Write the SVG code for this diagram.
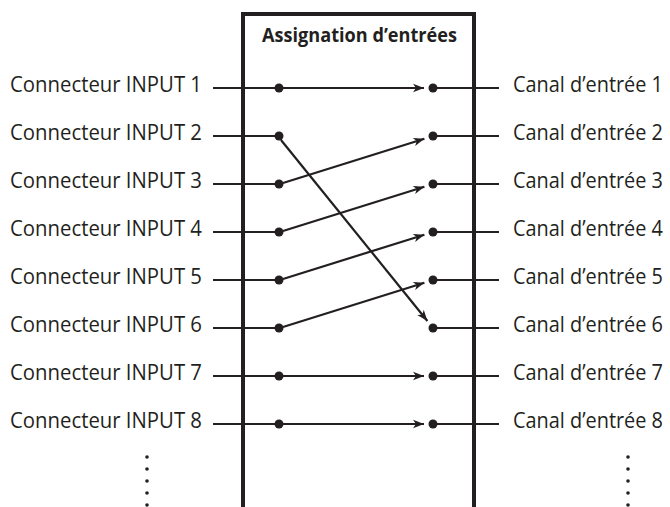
<svg xmlns="http://www.w3.org/2000/svg" width="670" height="507" viewBox="0 0 670 507">
  <style>
    .lbl { font-family: "Open Sans", "Noto Sans", "Liberation Sans", sans-serif; font-size: 21px; fill: #231f20; }
    .title { font-family: "Open Sans", "Noto Sans", "Liberation Sans", sans-serif; font-size: 19px; font-weight: bold; fill: #231f20; }
    .box { fill: none; stroke: #231f20; stroke-width: 4; }
    .wire { stroke: #231f20; stroke-width: 2.2; fill: none; }
    .arr { stroke: #231f20; stroke-width: 2.2; fill: none; marker-end: url(#ah); }
    .dot { fill: #231f20; }
    .sdot { fill: #231f20; }
  </style>
  <defs>
    <marker id="ah" markerUnits="userSpaceOnUse" markerWidth="13" markerHeight="10" viewBox="0 -5 13 10" refX="11" refY="0" orient="auto">
      <path d="M0,-4.2 L11,0 L0,4.2 L3,0 Z" fill="#231f20"/>
    </marker>
  </defs>

  <g id="box">
    <path class="box" d="M243,507 V14 H474 V507"/>
    <text class="title" x="262" y="42" textLength="195" lengthAdjust="spacingAndGlyphs">Assignation d’entrées</text>
  </g>

  <g id="inputs">
    <g id="in1"><text class="lbl" x="10" y="92" textLength="192" lengthAdjust="spacingAndGlyphs">Connecteur INPUT 1</text><line class="wire" x1="213" y1="88" x2="279" y2="88"/><circle class="dot" cx="279" cy="88" r="4.5"/></g>
    <g id="in2"><text class="lbl" x="10" y="140" textLength="192" lengthAdjust="spacingAndGlyphs">Connecteur INPUT 2</text><line class="wire" x1="213" y1="136" x2="279" y2="136"/><circle class="dot" cx="279" cy="136" r="4.5"/></g>
    <g id="in3"><text class="lbl" x="10" y="188" textLength="192" lengthAdjust="spacingAndGlyphs">Connecteur INPUT 3</text><line class="wire" x1="213" y1="184" x2="279" y2="184"/><circle class="dot" cx="279" cy="184" r="4.5"/></g>
    <g id="in4"><text class="lbl" x="10" y="236" textLength="192" lengthAdjust="spacingAndGlyphs">Connecteur INPUT 4</text><line class="wire" x1="213" y1="232" x2="279" y2="232"/><circle class="dot" cx="279" cy="232" r="4.5"/></g>
    <g id="in5"><text class="lbl" x="10" y="284" textLength="192" lengthAdjust="spacingAndGlyphs">Connecteur INPUT 5</text><line class="wire" x1="213" y1="280" x2="279" y2="280"/><circle class="dot" cx="279" cy="280" r="4.5"/></g>
    <g id="in6"><text class="lbl" x="10" y="332" textLength="192" lengthAdjust="spacingAndGlyphs">Connecteur INPUT 6</text><line class="wire" x1="213" y1="328" x2="279" y2="328"/><circle class="dot" cx="279" cy="328" r="4.5"/></g>
    <g id="in7"><text class="lbl" x="10" y="380" textLength="192" lengthAdjust="spacingAndGlyphs">Connecteur INPUT 7</text><line class="wire" x1="213" y1="376" x2="279" y2="376"/><circle class="dot" cx="279" cy="376" r="4.5"/></g>
    <g id="in8"><text class="lbl" x="10" y="428" textLength="192" lengthAdjust="spacingAndGlyphs">Connecteur INPUT 8</text><line class="wire" x1="213" y1="424" x2="279" y2="424"/><circle class="dot" cx="279" cy="424" r="4.5"/></g>
    <g id="in-more">
      <circle class="sdot" cx="147" cy="457" r="1.8"/><circle class="sdot" cx="147" cy="469" r="1.8"/><circle class="sdot" cx="147" cy="481" r="1.8"/><circle class="sdot" cx="147" cy="493" r="1.8"/><circle class="sdot" cx="147" cy="505" r="1.8"/>
    </g>
  </g>

  <g id="outputs">
    <g id="out1"><circle class="dot" cx="433" cy="88" r="4.5"/><line class="wire" x1="433" y1="88" x2="499" y2="88"/><text class="lbl" x="513" y="92" textLength="150" lengthAdjust="spacingAndGlyphs">Canal d’entrée 1</text></g>
    <g id="out2"><circle class="dot" cx="433" cy="136" r="4.5"/><line class="wire" x1="433" y1="136" x2="499" y2="136"/><text class="lbl" x="513" y="140" textLength="150" lengthAdjust="spacingAndGlyphs">Canal d’entrée 2</text></g>
    <g id="out3"><circle class="dot" cx="433" cy="184" r="4.5"/><line class="wire" x1="433" y1="184" x2="499" y2="184"/><text class="lbl" x="513" y="188" textLength="150" lengthAdjust="spacingAndGlyphs">Canal d’entrée 3</text></g>
    <g id="out4"><circle class="dot" cx="433" cy="232" r="4.5"/><line class="wire" x1="433" y1="232" x2="499" y2="232"/><text class="lbl" x="513" y="236" textLength="150" lengthAdjust="spacingAndGlyphs">Canal d’entrée 4</text></g>
    <g id="out5"><circle class="dot" cx="433" cy="280" r="4.5"/><line class="wire" x1="433" y1="280" x2="499" y2="280"/><text class="lbl" x="513" y="284" textLength="150" lengthAdjust="spacingAndGlyphs">Canal d’entrée 5</text></g>
    <g id="out6"><circle class="dot" cx="433" cy="328" r="4.5"/><line class="wire" x1="433" y1="328" x2="499" y2="328"/><text class="lbl" x="513" y="332" textLength="150" lengthAdjust="spacingAndGlyphs">Canal d’entrée 6</text></g>
    <g id="out7"><circle class="dot" cx="433" cy="376" r="4.5"/><line class="wire" x1="433" y1="376" x2="499" y2="376"/><text class="lbl" x="513" y="380" textLength="150" lengthAdjust="spacingAndGlyphs">Canal d’entrée 7</text></g>
    <g id="out8"><circle class="dot" cx="433" cy="424" r="4.5"/><line class="wire" x1="433" y1="424" x2="499" y2="424"/><text class="lbl" x="513" y="428" textLength="150" lengthAdjust="spacingAndGlyphs">Canal d’entrée 8</text></g>
    <g id="out-more">
      <circle class="sdot" cx="628" cy="457" r="1.8"/><circle class="sdot" cx="628" cy="469" r="1.8"/><circle class="sdot" cx="628" cy="481" r="1.8"/><circle class="sdot" cx="628" cy="493" r="1.8"/><circle class="sdot" cx="628" cy="505" r="1.8"/>
    </g>
  </g>

  <g id="connectors">
    <line class="arr" x1="283" y1="88" x2="424" y2="88"/>
    <line class="arr" x1="281" y1="140" x2="427.4" y2="321"/>
    <line class="arr" x1="283" y1="183" x2="424.4" y2="138.7"/>
    <line class="arr" x1="283" y1="231" x2="424.4" y2="186.7"/>
    <line class="arr" x1="283" y1="279" x2="424.4" y2="234.7"/>
    <line class="arr" x1="283" y1="327" x2="424.4" y2="282.7"/>
    <line class="arr" x1="283" y1="376" x2="424" y2="376"/>
    <line class="arr" x1="283" y1="424" x2="424" y2="424"/>
  </g>
</svg>
